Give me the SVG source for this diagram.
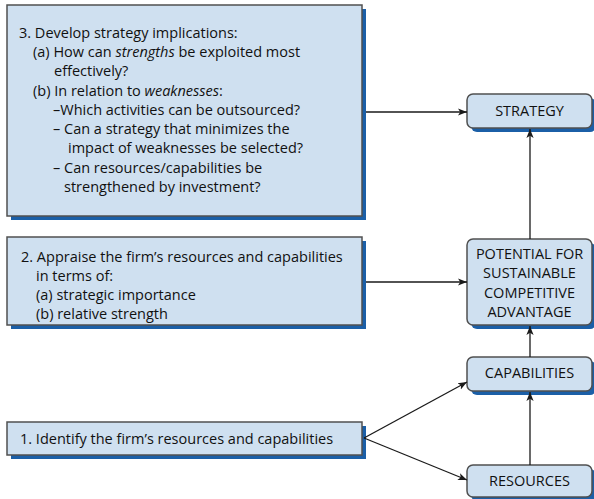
<svg xmlns="http://www.w3.org/2000/svg" width="594" height="499" viewBox="0 0 594 499">
  <defs>
    <marker id="arrow" viewBox="0 0 10 10" refX="10" refY="5" markerWidth="9" markerHeight="9" markerUnits="userSpaceOnUse" orient="auto">
      <path d="M0,1 L10,5 L0,9 L2.5,5 Z" fill="#1a1a1a"/>
    </marker>
  </defs>
  <style>
    .shadow { fill: #1b5fa7; }
    .box { fill: #cfe0f0; stroke: #505050; stroke-width: 1.5; }
    .txt { font-family: "Open Sans", "Liberation Sans", Arial, sans-serif; font-size: 14.5px; fill: #111111; }
    .ctr { text-anchor: middle; }
    .link { stroke: #1a1a1a; stroke-width: 1.3; fill: none; marker-end: url(#arrow); }
  </style>
  <rect width="594" height="499" fill="#ffffff"/>

  <!-- Step 3 -->
  <g id="step3">
    <rect class="shadow" x="11" y="9" width="355" height="211"/>
    <rect class="box" x="7" y="5" width="355" height="211"/>
    <text class="txt" x="19" y="38">3. Develop strategy implications:</text>
    <text class="txt" x="33" y="57">(a) How can <tspan font-style="italic">strengths</tspan> be exploited most</text>
    <text class="txt" x="54" y="76">effectively?</text>
    <text class="txt" x="33" y="96">(b) In relation to <tspan font-style="italic">weaknesses</tspan>:</text>
    <text class="txt" x="53" y="115">–Which activities can be outsourced?</text>
    <text class="txt" x="53" y="134">– Can a strategy that minimizes the</text>
    <text class="txt" x="68" y="153">impact of weaknesses be selected?</text>
    <text class="txt" x="53" y="173">– Can resources/capabilities be</text>
    <text class="txt" x="64" y="192">strengthened by investment?</text>
  </g>

  <!-- Step 2 -->
  <g id="step2">
    <rect class="shadow" x="11" y="241" width="355" height="88"/>
    <rect class="box" x="7" y="237" width="355" height="88"/>
    <text class="txt" x="21" y="262">2. Appraise the firm’s resources and capabilities</text>
    <text class="txt" x="36" y="281">in terms of:</text>
    <text class="txt" x="36" y="300">(a) strategic importance</text>
    <text class="txt" x="36" y="319">(b) relative strength</text>
  </g>

  <!-- Step 1 -->
  <g id="step1">
    <rect class="shadow" x="11" y="426" width="355" height="33"/>
    <rect class="box" x="7" y="422" width="355" height="33"/>
    <text class="txt" x="20" y="444">1. Identify the firm’s resources and capabilities</text>
  </g>

  <!-- Right-hand column -->
  <g id="strategy">
    <rect class="shadow" x="471" y="98" width="125" height="34" rx="6"/>
    <rect class="box" x="467" y="94" width="125" height="34" rx="6"/>
    <text class="txt ctr" x="529.5" y="116">STRATEGY</text>
  </g>

  <g id="potential">
    <rect class="shadow" x="471" y="243" width="125" height="86" rx="6"/>
    <rect class="box" x="467" y="239" width="125" height="86" rx="6"/>
    <text class="txt ctr" x="529.5" y="259">POTENTIAL FOR</text>
    <text class="txt ctr" x="529.5" y="278">SUSTAINABLE</text>
    <text class="txt ctr" x="529.5" y="298">COMPETITIVE</text>
    <text class="txt ctr" x="529.5" y="317">ADVANTAGE</text>
  </g>

  <g id="capabilities">
    <rect class="shadow" x="471" y="361" width="125" height="34" rx="6"/>
    <rect class="box" x="467" y="357" width="125" height="34" rx="6"/>
    <text class="txt ctr" x="529.5" y="378">CAPABILITIES</text>
  </g>

  <g id="resources">
    <rect class="shadow" x="471" y="469" width="125" height="32" rx="6"/>
    <rect class="box" x="467" y="465" width="125" height="32" rx="6"/>
    <text class="txt ctr" x="529.5" y="486">RESOURCES</text>
  </g>

  <!-- Connectors -->
  <g id="connectors">
    <line class="link" x1="366" y1="112" x2="467" y2="112"/>
    <line class="link" x1="366" y1="282" x2="467" y2="282"/>
    <line class="link" x1="364" y1="438" x2="467" y2="382"/>
    <line class="link" x1="364" y1="438" x2="467" y2="480"/>
    <line class="link" x1="530" y1="465" x2="530" y2="392"/>
    <line class="link" x1="530" y1="357" x2="530" y2="326"/>
    <line class="link" x1="530" y1="239" x2="530" y2="129"/>
  </g>
</svg>
